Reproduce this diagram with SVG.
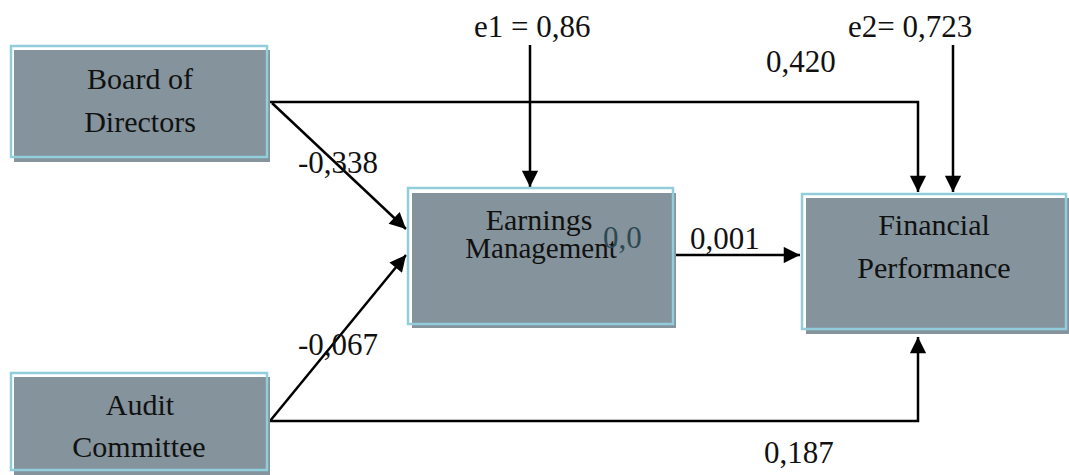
<svg xmlns="http://www.w3.org/2000/svg" width="1069" height="475" viewBox="0 0 1069 475" font-family="Liberation Serif, Tinos, Times New Roman, DejaVu Serif, serif">
<style>
.sh{fill:#84939c}
.fr{fill:none;stroke:#92cddc;stroke-width:2.5}
.t{font-size:30px;fill:#111;text-anchor:middle}
.l{font-size:31px;fill:#111}
.c{fill:none;stroke:#000;stroke-width:2.5}
</style>
<defs>
<marker id="ah" viewBox="0 0 10 10" refX="10" refY="5" markerWidth="8" markerHeight="6.5" markerUnits="strokeWidth" orient="auto">
<path d="M0,0 L10,5 L0,10 z" fill="#000"/>
</marker>
</defs>
<g id="connectors">
<path class="c" d="M270,102 H918 V192" marker-end="url(#ah)"/>
<path class="c" d="M953,45 V192" marker-end="url(#ah)"/>
<path class="c" d="M530,45 V187" marker-end="url(#ah)"/>
<path class="c" d="M272,103 L406,229" marker-end="url(#ah)"/>
<path class="c" d="M270,421 L406,255" marker-end="url(#ah)"/>
<path class="c" d="M676,255 H800" marker-end="url(#ah)"/>
<path class="c" d="M270,421 H918 V337" marker-end="url(#ah)"/>
</g>
<g id="board">
<rect class="sh" x="14" y="50" width="256" height="112"/>
<rect class="fr" x="11" y="46" width="256" height="111"/>
<text class="t" x="140" y="89">Board of</text>
<text class="t" x="140" y="132">Directors</text>
</g>
<g id="earnings">
<rect class="sh" x="412" y="193" width="264" height="135"/>
<rect class="fr" x="408" y="188" width="265" height="136"/>
<text class="t" x="539" y="230">Earnings</text>
<text class="t" x="541" y="258" style="font-size:29px">Management</text>
<text class="l" x="603" y="248" style="fill:#2d4853">0,0</text>
</g>
<g id="financial">
<rect class="sh" x="806" y="198" width="263" height="136"/>
<rect class="fr" x="802" y="194" width="264" height="135"/>
<text class="t" x="934" y="235">Financial</text>
<text class="t" x="934" y="278">Performance</text>
</g>
<g id="audit">
<rect class="sh" x="14" y="377" width="256" height="98"/>
<rect class="fr" x="11" y="373" width="256" height="97"/>
<text class="t" x="140" y="415">Audit</text>
<text class="t" x="139" y="457">Committee</text>
</g>
<g id="labels">
<text class="l" x="474" y="37">e1 = 0,86</text>
<text class="l" x="848" y="37">e2= 0,723</text>
<text class="l" x="766" y="72">0,420</text>
<text class="l" x="298" y="173">-0,338</text>
<text class="l" x="690" y="249">0,001</text>
<text class="l" x="298" y="355">-0,067</text>
<text class="l" x="764" y="463">0,187</text>
</g>
</svg>
